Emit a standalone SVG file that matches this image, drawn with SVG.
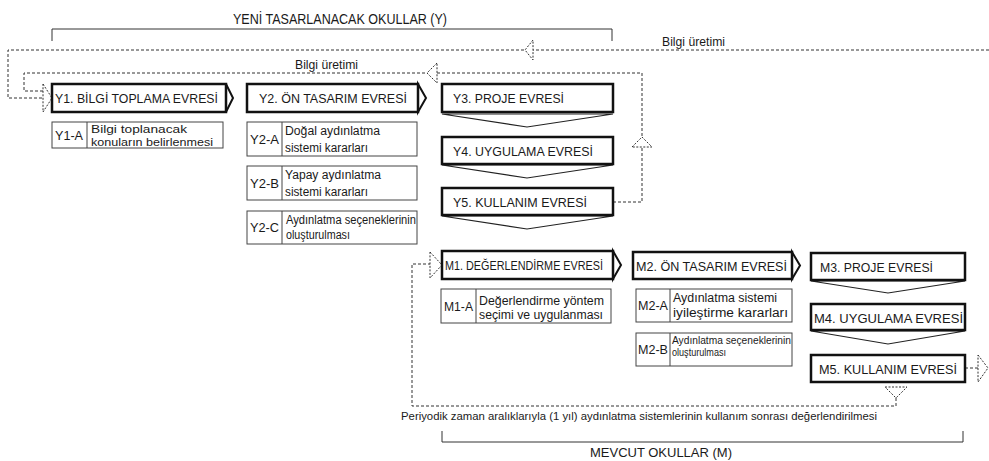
<svg xmlns="http://www.w3.org/2000/svg" width="989" height="461" viewBox="0 0 989 461">
<style>
text{font-family:"Liberation Sans",Arial,sans-serif;fill:#1a1a1a}
.t{font-size:13.5px}
.s{font-size:12.5px}
.xs{font-size:10.5px}
.main{fill:#fff;stroke:#111;stroke-width:2.5}
.sub{fill:#fff;stroke:#444;stroke-width:1}
.div{stroke:#444;stroke-width:1}
.chev{fill:#fff;stroke:#111;stroke-width:2}
.vchev{fill:#fff;stroke:#222;stroke-width:1.2}
.dash{fill:none;stroke:#333;stroke-width:1;stroke-dasharray:3 2}
.dhead{fill:#fff;stroke:#333;stroke-width:1;stroke-dasharray:2 1.5}
.br{fill:none;stroke:#333;stroke-width:1}
</style>

<!-- brackets and group titles -->
<g id="group-Y">
<text x="233" y="24" style="font-size:14.5px" textLength="214" lengthAdjust="spacingAndGlyphs">YENİ TASARLANACAK OKULLAR (Y)</text>
<path class="br" d="M52,41 V29 H612 V41"/>
</g>
<g id="group-M">
<path class="br" d="M442,431 V442 H963 V431"/>
<text x="590" y="457" style="font-size:13.5px" textLength="142" lengthAdjust="spacingAndGlyphs">MEVCUT OKULLAR (M)</text>
</g>

<!-- connectors -->
<g id="connectors">
<!-- outer feedback loop -->
<path class="dash" d="M989,50 H8 V98 H43"/>
<polygon class="dhead" points="533,40 525,50 533,60"/>
<text x="662" y="46" style="font-size:12px" textLength="63" lengthAdjust="spacingAndGlyphs">Bilgi üretimi</text>
<!-- inner feedback loop -->
<path class="dash" d="M613,202 H642 V73 H24 V91 H43"/>
<polygon class="dhead" points="437,63 427,73 437,83"/>
<polygon class="dhead" points="632,147 642,137 652,147"/>
<text x="295" y="69" style="font-size:12px" textLength="63" lengthAdjust="spacingAndGlyphs">Bilgi üretimi</text>
<polygon class="dhead" points="43,84 52,98 43,112"/>
<!-- M loop -->
<polygon class="dhead" points="885,387 907,387 896,398"/>
<path class="dash" d="M896,398 V406 H412 V264 H430"/>
<polygon class="dhead" points="430,252 442,265 430,278"/>
<text x="401" y="420" style="font-size:11.5px" textLength="476" lengthAdjust="spacingAndGlyphs">Periyodik zaman aralıklarıyla (1 yıl) aydınlatma sistemlerinin kullanım sonrası değerlendirilmesi</text>
<!-- M5 out -->
<path class="dash" d="M965,368 H978"/>
<polygon class="dhead" points="978,355 988,368 978,382"/>
<!-- chevrons -->
<polygon class="chev" points="226,84 233,98 226,112"/>
<polygon class="chev" points="418,84 426,98 418,112"/>
<polygon class="chev" points="613,251 621,265 613,279"/>
<polygon class="chev" points="792,252 800,265.5 792,279"/>
<polygon class="vchev" points="442,114 613,114 527,127"/>
<polygon class="vchev" points="442,165 613,165 527,178"/>
<polygon class="vchev" points="442,216 613,216 527,229"/>
<polygon class="vchev" points="811,281 965,281 888,293"/>
<polygon class="vchev" points="811,331 965,331 888,344"/>
</g>

<!-- Y nodes -->
<g id="Y1">
<rect class="main" x="52" y="84" width="174" height="28"/>
<text class="t" x="55" y="103" textLength="163" lengthAdjust="spacingAndGlyphs">Y1. BİLGİ TOPLAMA EVRESİ</text>
</g>
<g id="Y1-A">
<rect class="sub" x="52" y="122" width="171" height="26"/>
<line class="div" x1="87" y1="122" x2="87" y2="148"/>
<text class="s" x="55" y="140" textLength="28" lengthAdjust="spacingAndGlyphs">Y1-A</text>
<text x="91" y="133" style="font-size:11.5px" textLength="96" lengthAdjust="spacingAndGlyphs">Bilgi toplanacak</text>
<text x="91" y="146" style="font-size:11.5px" textLength="122" lengthAdjust="spacingAndGlyphs">konuların belirlenmesi</text>
</g>
<g id="Y2">
<rect class="main" x="247" y="84" width="171" height="28"/>
<text class="t" x="259" y="103" textLength="148" lengthAdjust="spacingAndGlyphs">Y2. ÖN TASARIM EVRESİ</text>
</g>
<g id="Y2-A">
<rect class="sub" x="247" y="122" width="170" height="34"/>
<line class="div" x1="282" y1="122" x2="282" y2="156"/>
<text class="s" x="250" y="144" textLength="29" lengthAdjust="spacingAndGlyphs">Y2-A</text>
<text class="s" x="285" y="135" textLength="95" lengthAdjust="spacingAndGlyphs">Doğal aydınlatma</text>
<text class="s" x="285" y="152" textLength="83" lengthAdjust="spacingAndGlyphs">sistemi kararları</text>
</g>
<g id="Y2-B">
<rect class="sub" x="247" y="166" width="170" height="34"/>
<line class="div" x1="282" y1="166" x2="282" y2="200"/>
<text class="s" x="250" y="188" textLength="29" lengthAdjust="spacingAndGlyphs">Y2-B</text>
<text class="s" x="285" y="179" textLength="96" lengthAdjust="spacingAndGlyphs">Yapay aydınlatma</text>
<text class="s" x="285" y="196" textLength="83" lengthAdjust="spacingAndGlyphs">sistemi kararları</text>
</g>
<g id="Y2-C">
<rect class="sub" x="247" y="211" width="170" height="33"/>
<line class="div" x1="282" y1="211" x2="282" y2="244"/>
<text class="s" x="250" y="232" textLength="29" lengthAdjust="spacingAndGlyphs">Y2-C</text>
<text x="286" y="224" style="font-size:12px" textLength="130" lengthAdjust="spacingAndGlyphs">Aydınlatma seçeneklerinin</text>
<text x="286" y="239" style="font-size:12px" textLength="64" lengthAdjust="spacingAndGlyphs">oluşturulması</text>
</g>
<g id="Y3">
<rect class="main" x="442" y="84" width="171" height="28"/>
<text class="t" x="453" y="103" textLength="111" lengthAdjust="spacingAndGlyphs">Y3. PROJE EVRESİ</text>
</g>
<g id="Y4">
<rect class="main" x="442" y="137" width="171" height="27"/>
<text class="t" x="453" y="156" textLength="140" lengthAdjust="spacingAndGlyphs">Y4. UYGULAMA EVRESİ</text>
</g>
<g id="Y5">
<rect class="main" x="442" y="188" width="171" height="27"/>
<text class="t" x="453" y="207" textLength="134" lengthAdjust="spacingAndGlyphs">Y5. KULLANIM EVRESİ</text>
</g>

<!-- M nodes -->
<g id="M1">
<rect class="main" x="442" y="251" width="171" height="28"/>
<text class="t" x="445" y="270" textLength="158" lengthAdjust="spacingAndGlyphs">M1. DEĞERLENDİRME EVRESİ</text>
</g>
<g id="M1-A">
<rect class="sub" x="441" y="289" width="170" height="34"/>
<line class="div" x1="476" y1="289" x2="476" y2="323"/>
<text class="s" x="444" y="311" textLength="29" lengthAdjust="spacingAndGlyphs">M1-A</text>
<text class="s" x="479" y="305" textLength="125" lengthAdjust="spacingAndGlyphs">Değerlendirme yöntem</text>
<text class="s" x="479" y="319" textLength="124" lengthAdjust="spacingAndGlyphs">seçimi ve uygulanması</text>
</g>
<g id="M2">
<rect class="main" x="633" y="252" width="159" height="27"/>
<text class="t" x="636" y="271" textLength="151" lengthAdjust="spacingAndGlyphs">M2. ÖN TASARIM EVRESİ</text>
</g>
<g id="M2-A">
<rect class="sub" x="636" y="289" width="156" height="33"/>
<line class="div" x1="670" y1="289" x2="670" y2="322"/>
<text class="s" x="638" y="310" textLength="30" lengthAdjust="spacingAndGlyphs">M2-A</text>
<text class="s" x="673" y="302" textLength="104" lengthAdjust="spacingAndGlyphs">Aydınlatma sistemi</text>
<text class="s" x="673" y="317" textLength="115" lengthAdjust="spacingAndGlyphs">iyileştirme kararları</text>
</g>
<g id="M2-B">
<rect class="sub" x="636" y="333" width="156" height="33"/>
<line class="div" x1="670" y1="333" x2="670" y2="366"/>
<text class="s" x="638" y="354" textLength="30" lengthAdjust="spacingAndGlyphs">M2-B</text>
<text class="xs" x="672" y="344" textLength="119" lengthAdjust="spacingAndGlyphs">Aydınlatma seçeneklerinin</text>
<text class="xs" x="672" y="356" textLength="54" lengthAdjust="spacingAndGlyphs">oluşturulması</text>
</g>
<g id="M3">
<rect class="main" x="811" y="253" width="154" height="27"/>
<text class="t" x="820" y="272" textLength="113" lengthAdjust="spacingAndGlyphs">M3. PROJE EVRESİ</text>
</g>
<g id="M4">
<rect class="main" x="811" y="304" width="154" height="26"/>
<text class="t" x="814" y="323" textLength="149" lengthAdjust="spacingAndGlyphs">M4. UYGULAMA EVRESİ</text>
</g>
<g id="M5">
<rect class="main" x="811" y="355" width="154" height="27"/>
<text class="t" x="819" y="374" textLength="138" lengthAdjust="spacingAndGlyphs">M5. KULLANIM EVRESİ</text>
</g>
</svg>
